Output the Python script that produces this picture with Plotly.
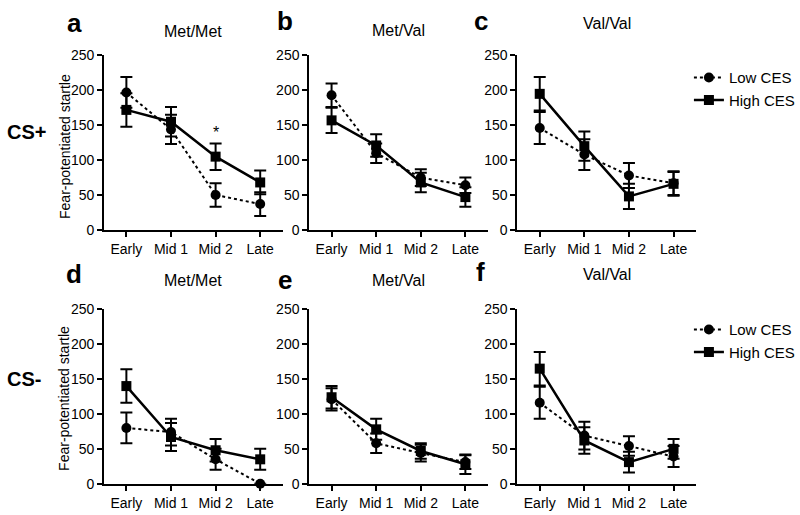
import plotly.graph_objects as go

categories = ["Early", "Mid 1", "Mid 2", "Late"]
y_ticks = [0, 50, 100, 150, 200, 250]
panel_titles = ["Met/Met", "Met/Val", "Val/Val", "Met/Met", "Met/Val", "Val/Val"]
panel_letters = ["a", "b", "c", "d", "e", "f"]
row_labels = ["CS+", "CS-"]

# CS+ (top row)
low_a = [197, 144, 50, 37]
low_a_err = [22, 21, 17, 17]
high_a = [172, 155, 105, 68]
high_a_err = [24, 21, 19, 17]

low_b = [193, 110, 75, 64]
low_b_err = [17, 14, 12, 11]
high_b = [157, 121, 68, 47]
high_b_err = [18, 16, 14, 14]

low_c = [146, 108, 78, 67]
low_c_err = [23, 22, 18, 17]
high_c = [195, 120, 48, 66]
high_c_err = [24, 21, 18, 17]

# CS- (bottom row)
low_d = [80, 74, 35, 0]
low_d_err = [22, 19, 15, 0]
high_d = [140, 67, 48, 35]
high_d_err = [24, 20, 16, 15]

low_e = [121, 58, 44, 31]
low_e_err = [16, 14, 12, 10]
high_e = [124, 78, 47, 28]
high_e_err = [16, 15, 11, 14]

low_f = [116, 69, 54, 39]
low_f_err = [23, 20, 14, 15]
high_f = [165, 62, 31, 50]
high_f_err = [24, 19, 15, 14]

star_value = 140

W, H = 800, 515
FONT = "Liberation Sans, Arial, sans-serif"

panels = [
    (low_a, low_a_err, high_a, high_a_err),
    (low_b, low_b_err, high_b, high_b_err),
    (low_c, low_c_err, high_c, high_c_err),
    (low_d, low_d_err, high_d, high_d_err),
    (low_e, low_e_err, high_e, high_e_err),
    (low_f, low_f_err, high_f, high_f_err),
]

# pixel layout of plot areas
x_px = [(105, 285), (312, 492), (522, 702)]
y_px = [(49, 229), (311, 491)]

fig = go.Figure()

def px_x(p):
    return p / W

def px_y(p):
    return 1 - p / H

for i, (lo, lo_e, hi, hi_e) in enumerate(panels):
    r, c = divmod(i, 3)
    n = i + 1
    xa = "x" if n == 1 else f"x{n}"
    ya = "y" if n == 1 else f"y{n}"
    show = (c == 2)
    leg = "legend" if r == 0 else "legend2"
    fig.add_trace(go.Scatter(
        x=categories, y=hi, xaxis=xa, yaxis=ya, name="High CES",
        mode="lines+markers", line=dict(color="black", width=2.5),
        marker=dict(symbol="square", size=10, color="black"),
        error_y=dict(type="data", array=hi_e, color="black", thickness=2, width=6),
        showlegend=False, legend=leg, cliponaxis=False))
    fig.add_trace(go.Scatter(
        x=categories, y=lo, xaxis=xa, yaxis=ya, name="Low CES",
        mode="lines+markers", line=dict(color="black", width=2, dash="dot"),
        marker=dict(symbol="circle", size=10, color="black"),
        error_y=dict(type="data", array=lo_e, color="black", thickness=2, width=6),
        showlegend=False, legend=leg, cliponaxis=False))
    if show:
        fig.add_trace(go.Scatter(
            x=[None], y=[None], xaxis=xa, yaxis=ya, name="Low CES",
            mode="lines+markers", line=dict(color="black", width=2, dash="dot"),
            marker=dict(symbol="circle", size=10, color="black"),
            showlegend=True, legend=leg))
        fig.add_trace(go.Scatter(
            x=[None], y=[None], xaxis=xa, yaxis=ya, name="High CES",
            mode="lines+markers", line=dict(color="black", width=2.5),
            marker=dict(symbol="square", size=10, color="black"),
            showlegend=True, legend=leg))

    xk = "xaxis" if n == 1 else f"xaxis{n}"
    yk = "yaxis" if n == 1 else f"yaxis{n}"
    x0, x1 = x_px[c]
    y0, y1 = y_px[r]
    fig.update_layout({
        xk: dict(domain=[px_x(x0), px_x(x1)], anchor=ya, type="category",
                 categoryorder="array", categoryarray=categories,
                 range=[-0.5, 3.5], showline=True, linecolor="black", linewidth=2,
                 ticks="outside", ticklen=5, tickwidth=2, tickcolor="black",
                 showgrid=False, zeroline=False,
                 tickfont=dict(family=FONT, size=14, color="black")),
        yk: dict(domain=[px_y(y1), px_y(y0)], anchor=xa, range=[0, 250],
                 tickvals=y_ticks, showline=True, linecolor="black", linewidth=2,
                 ticks="outside", ticklen=5, tickwidth=2, tickcolor="black",
                 showgrid=False, zeroline=False,
                 tickfont=dict(family=FONT, size=14, color="black")),
    })

annotations = []
title_y = [[24, 23, 16], [281, 281, 275]]
letter_y = [[15, 13, 13], [275, 281, 272]]
letter_x = [75, 288, 485]
for i in range(6):
    r, c = divmod(i, 3)
    x0, x1 = x_px[c]
    annotations.append(dict(text=panel_titles[i], xref="paper", yref="paper",
                            x=px_x((x0 + x1) / 2), y=px_y(title_y[r][c]),
                            xanchor="center", yanchor="middle", showarrow=False,
                            font=dict(family=FONT, size=16, color="black")))
    annotations.append(dict(text="<b>" + panel_letters[i] + "</b>", xref="paper", yref="paper",
                            x=px_x(letter_x[c]), y=px_y(letter_y[r][c]),
                            xanchor="center", yanchor="middle", showarrow=False,
                            font=dict(family=FONT, size=26, color="black")))
for r in range(2):
    annotations.append(dict(text="<b>" + row_labels[r] + "</b>", xref="paper", yref="paper",
                            x=px_x(5), y=px_y([128, 383][r]),
                            xanchor="left", yanchor="middle", showarrow=False,
                            font=dict(family=FONT, size=20, color="black")))
    annotations.append(dict(text="Fear-potentiated startle", xref="paper", yref="paper",
                            x=px_x(65), y=px_y([143, 403][r]), textangle=-90,
                            xanchor="center", yanchor="middle", showarrow=False,
                            font=dict(family=FONT, size=14, color="black")))
annotations.append(dict(text="*", xref="x", yref="y", x="Mid 2", y=star_value,
                        xanchor="center", yanchor="middle", showarrow=False,
                        font=dict(family=FONT, size=16, color="black")))

fig.update_layout(
    width=W, height=H, margin=dict(l=0, r=0, t=0, b=0),
    paper_bgcolor="white", plot_bgcolor="white",
    annotations=annotations,
    legend=dict(x=px_x(695), y=px_y(55), xanchor="left", yanchor="top",
                font=dict(family=FONT, size=15, color="black"),
                bgcolor="rgba(0,0,0,0)", tracegroupgap=0, itemwidth=30),
    legend2=dict(x=px_x(695), y=px_y(315), xanchor="left", yanchor="top",
                 font=dict(family=FONT, size=15, color="black"),
                 bgcolor="rgba(0,0,0,0)", tracegroupgap=0, itemwidth=30),
)

fig.write_html("out.html", config={"displayModeBar": False},
               post_script="document.body.style.margin='0';document.body.style.overflow='hidden';")
